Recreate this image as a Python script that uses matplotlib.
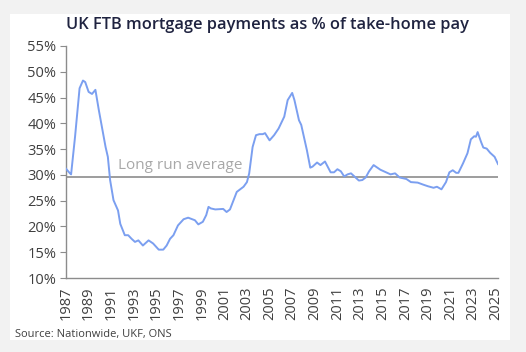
import matplotlib
matplotlib.use("Agg")
import matplotlib.pyplot as plt
from matplotlib.patches import Rectangle

plt.rcParams['font.family'] = ['Open Sans', 'DejaVu Sans']

# readings (decimal year, % of take-home pay)
years = [1987.0, 1987.35, 1987.45, 1987.8, 1988.2, 1988.5, 1988.7, 1989.0, 1989.3, 1989.6,
         1989.9, 1990.2, 1990.5, 1990.7, 1990.9, 1991.2, 1991.6, 1991.8, 1992.2, 1992.5,
         1992.8, 1993.1, 1993.4, 1993.8, 1994.3, 1994.7, 1995.2, 1995.6, 1995.9, 1996.2,
         1996.5, 1996.9, 1997.4, 1997.8, 1998.4, 1998.7, 1999.1, 1999.4, 1999.6, 1999.8,
         2000.2, 2000.9, 2001.2, 2001.5, 2002.1, 2002.7, 2003.0, 2003.2, 2003.5, 2003.8,
         2004.1, 2004.4, 2004.6, 2005.0, 2005.4, 2005.8, 2006.3, 2006.6, 2007.0, 2007.2,
         2007.6, 2007.8, 2008.3, 2008.6, 2008.8, 2009.2, 2009.5, 2009.9, 2010.4, 2010.7,
         2011.0, 2011.3, 2011.6, 2011.9, 2012.2, 2012.5, 2012.9, 2013.2, 2013.5, 2013.8,
         2014.2, 2014.4, 2014.8, 2015.3, 2015.7, 2016.1, 2016.5, 2017.1, 2017.5, 2018.1,
         2018.6, 2019.0, 2019.5, 2019.8, 2020.2, 2020.6, 2020.9, 2021.2, 2021.5, 2021.7,
         2022.1, 2022.5, 2022.8, 2023.1, 2023.25, 2023.4, 2023.7, 2023.9, 2024.2, 2024.5,
         2024.9, 2025.2]
pct = [31.2, 30.3, 30.1, 37.4, 46.8, 48.3, 48.0, 46.1, 45.7, 46.5,
       42.6, 39.0, 35.4, 33.5, 29.0, 25.1, 23.1, 20.5, 18.3, 18.3,
       17.6, 17.0, 17.3, 16.3, 17.3, 16.7, 15.5, 15.5, 16.3, 17.6,
       18.3, 20.2, 21.4, 21.7, 21.2, 20.4, 20.9, 22.2, 23.8, 23.5,
       23.3, 23.4, 22.8, 23.3, 26.7, 27.7, 28.6, 30.3, 35.4, 37.7,
       37.9, 37.9, 38.1, 36.7, 37.7, 39.0, 41.3, 44.5, 45.9, 44.5,
       40.6, 39.7, 34.8, 31.4, 31.6, 32.4, 31.9, 32.6, 30.5, 30.5,
       31.1, 30.7, 29.7, 30.1, 30.3, 29.7, 28.9, 29.0, 29.5, 30.7,
       31.9, 31.6, 31.0, 30.5, 30.1, 30.3, 29.5, 29.2, 28.6, 28.5,
       28.1, 27.8, 27.5, 27.7, 27.2, 28.6, 30.5, 30.9, 30.4, 30.4,
       32.2, 34.2, 36.9, 37.5, 37.4, 38.3, 36.4, 35.3, 35.1, 34.3,
       33.5, 32.1]
long_run_avg = 29.5
tick_years = list(range(1987, 2026, 2))
y_ticks = list(range(10, 56, 5))

fig = plt.figure(figsize=(5.26, 3.52), dpi=100)
fig.patch.set_facecolor('#f2f2f2')
fig.patches.append(Rectangle((10/526, 12/352), 500/526, 326/352, transform=fig.transFigure,
                             facecolor='white', edgecolor='none', zorder=-1))

ax = fig.add_axes([66/526, 1 - 278/352, 432/526, 232/352])
ax.set_zorder(2)
ax.set_facecolor('none')
ax.plot(years, pct, color='#7b9ff0', lw=1.4, zorder=3)
ax.axhline(long_run_avg, color='#8c8c8c', lw=1.2, zorder=2)
ax.text(1991.6, 31.8, 'Long run average', color='#a8a8a8', fontsize=11, va='center', ha='left')

ax.set_xlim(1987, 2025.2)
ax.set_ylim(10, 55)
ax.set_xticks(tick_years)
ax.set_xticklabels([str(y) for y in tick_years], rotation=90, fontsize=10.5, color='#404040')
ax.set_yticks(y_ticks)
ax.set_yticklabels([f'{v}%' for v in y_ticks], fontsize=10.5, color='#404040')
ax.tick_params(axis='x', length=0, pad=6)
ax.tick_params(axis='y', length=4, color='#8c8c8c', pad=3)
for s in ['top', 'right']:
    ax.spines[s].set_visible(False)
for s in ['left', 'bottom']:
    ax.spines[s].set_color('#8c8c8c')
    ax.spines[s].set_linewidth(1.0)

fig.text(0.508, 1 - 25/352, 'UK FTB mortgage payments as % of take-home pay', ha='center', va='center',
         fontsize=11.8, fontweight='semibold', color='#1f2340')
fig.text(15/526, 1 - 334/352, 'Source: Nationwide, UKF, ONS', ha='left', va='center',
         fontsize=8, color='#404040')

fig.savefig('out.png', dpi=100, facecolor=fig.get_facecolor())
